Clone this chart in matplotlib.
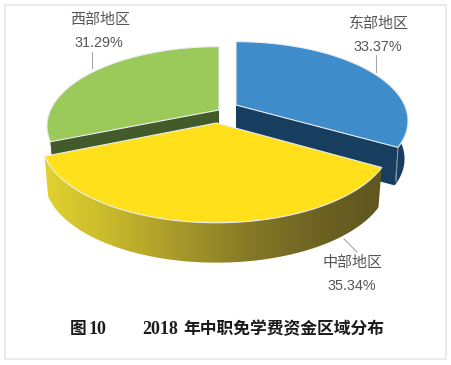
import numpy as np
import matplotlib
matplotlib.use('Agg')
import matplotlib.pyplot as plt
from matplotlib.patches import Polygon, Rectangle
from matplotlib.colors import LinearSegmentedColormap

plt.rcParams['font.family'] = ['Noto Sans CJK SC', 'DejaVu Sans']

### Data #######################################################################
regions = ['东部地区', '中部地区', '西部地区']
shares = [33.37, 35.34, 31.29]
caption_left = '图10'
caption_right = '年中职免学费资金区域分布'
caption_year = '2018'
################################################################################

# pixel layout of the tilted pie: apex of each exploded slice and its scale
apex_x = [236, 216.5, 219]
apex_y = [105, 123, 110]
scale_x = [1.0, 1.02, 1.0]
scale_y = [1.0, 1.05, 1.0]
R = 168.5
H = 76
K = 0.2     # perspective, far side of the disc gets smaller
depth = 38
shrink = 0.98   # bottom of the walls is a little narrower than the top

top_colors = ['#3f8ccb', '#ffe01b', '#9bc95a']
wall_colors = ['#173d5f', '#6a5f22', '#435a2a']
edge_color = '#e8eef0'


def project(theta, r, i):
    # theta in degrees, clockwise from twelve o'clock, r from 0 to 1
    t = np.radians(theta)
    u = r * np.sin(t)
    v = r * np.cos(t)
    w = 1 + K * v
    return apex_x[i] + scale_x[i] * R * u / w, apex_y[i] - scale_y[i] * H * v / w


fig = plt.figure(figsize=(4.52, 3.65), dpi=100)
ax = fig.add_axes([0, 0, 1, 1])
ax.set_xlim(0, 452)
ax.set_ylim(365, 0)
ax.axis('off')

ax.add_patch(Rectangle((5, 5), 441.5, 354, fill=False, ec='#e6e6e6', lw=1.1))

# slice boundaries from the shares
ends = np.cumsum(shares) / 100 * 360
starts = np.concatenate([[0], ends[:-1]])

# walls first, back slices before the yellow one
for i in [0, 2, 1]:
    th = np.linspace(starts[i], ends[i], 200)
    x, y = project(th, 1, i)
    ax0, ay0 = project(0, 0, i)
    d = depth * scale_y[i]

    # outer wall, only the part facing the viewer
    front = np.cos(np.radians(th)) < 0.12
    fx, fy = x[front], y[front]
    bx = ax0 + (fx - ax0) * shrink
    if i == 1:
        verts = np.column_stack([np.r_[fx, bx[::-1]], np.r_[fy, fy[::-1] + d]])
        poly = Polygon(verts, fc='none', ec='none', zorder=5)
        ax.add_patch(poly)
        cmap = LinearSegmentedColormap.from_list('wall', ['#e2d42e', '#c9b92c', '#a89a2a', '#867a26', '#6e6323', '#5f5620'])
        im = ax.imshow(np.linspace(0, 1, 256)[None, :], extent=[40, 385, 265, 150], aspect='auto', cmap=cmap, zorder=5)
        im.set_clip_path(poly)
    elif len(fx):
        verts = np.column_stack([np.r_[fx, bx[::-1]], np.r_[fy, fy[::-1] + d]])
        ax.add_patch(Polygon(verts, fc=wall_colors[i], ec='none', zorder=2))

    # radial walls
    for a in [starts[i], ends[i]]:
        px, py = project(a, 1, i)
        if py > ay0 - 1 and i != 1:
            verts = [(ax0, ay0), (px, py), (ax0 + (px - ax0) * shrink, py + d), (ax0, ay0 + d)]
            ax.add_patch(Polygon(verts, fc=wall_colors[i], ec='none', zorder=3))
    if i == 0:
        px, py = project(ends[i], 1, i)
        ax.plot([px, px - 2], [py, py + 34], color='#8aa3b8', lw=0.7, zorder=3)

    # top face
    verts = np.vstack([[ax0, ay0], np.column_stack([x, y])])
    z = 6 if i == 1 else 4
    ax.add_patch(Polygon(verts, fc=top_colors[i], ec=edge_color, lw=0.8, joinstyle='round', zorder=z))

ax.set_xlim(0, 452)
ax.set_ylim(365, 0)

# labels and their leader lines
label_x = [379, 353, 100]
label_y = [24, 263, 20]
lead_x = [[376, 376], [344, 357], [92, 92]]
lead_y = [[55, 72], [239, 252], [52, 68]]
for i in range(3):
    ax.text(label_x[i], label_y[i], regions[i], fontsize=10.8, color='#555555', ha='center', va='center')
    ax.text(label_x[i] - 1, label_y[i] + 23, '%.2f%%' % shares[i], fontsize=10.4, color='#555555', ha='center', va='center',
            family=['Liberation Sans', 'DejaVu Sans'])
    ax.plot(lead_x[i], lead_y[i], color='#a8a8a8', lw=0.8, zorder=7)

# caption
ax.text(70, 329, caption_left[0], fontsize=12, fontweight='bold', color='#1a1a1a', ha='left', va='center')
ax.text(89, 329, caption_left[1:], fontsize=13, fontweight='bold', color='#1a1a1a', ha='left', va='center',
        family=['Liberation Serif', 'DejaVu Serif'])
ax.text(142, 329, caption_year, fontsize=13, fontweight='bold', color='#1a1a1a', ha='left', va='center',
        family=['Liberation Serif', 'DejaVu Serif'])
ax.text(183, 329, caption_right, fontsize=12.1, fontweight='bold', color='#1a1a1a', ha='left', va='center')

fig.savefig('out.png', dpi=100)
